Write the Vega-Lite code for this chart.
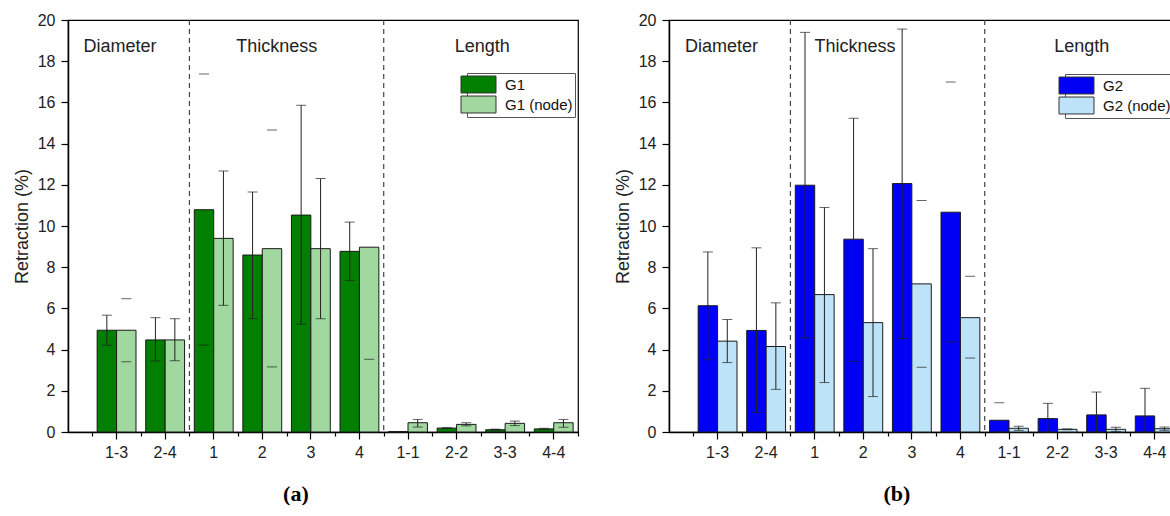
{
  "$schema": "https://vega.github.io/schema/vega-lite/v6.json",
  "background": "white",
  "padding": {"left": 12, "top": 11, "right": 0, "bottom": 0},
  "spacing": 33,
  "config": {
    "font": "Liberation Sans",
    "view": {"stroke": "#000", "strokeWidth": 1.2},
    "axis": {
      "labelFont": "Liberation Sans", "titleFont": "Liberation Sans",
      "labelColor": "#222", "titleColor": "#222",
      "domainColor": "#000", "tickColor": "#000", "grid": false,
      "titleFontWeight": "normal", "labelFontSize": 16, "titleFontSize": 18,
      "domainWidth": 1.5, "tickWidth": 1.2
    },
    "legend": {
      "orient": "none", "title": null,
      "symbolType": "M-2,-0.97L2,-0.97L2,0.97L-2,0.97Z",
      "symbolSize": 306, "symbolStrokeColor": "#333", "symbolStrokeWidth": 1,
      "symbolOpacity": 1, "labelFontSize": 15, "labelColor": "#111", "labelOffset": 17,
      "rowPadding": -4, "padding": 2, "strokeColor": "#555", "strokeWidth": 1
    }
  },
  "datasets": {
    "left": [
      {"cat": "1-3", "series": "G1", "value": 4.94, "low": 4.21, "high": 5.67},
      {"cat": "1-3", "series": "G1 (node)", "value": 4.94, "low": 3.41, "high": 6.47},
      {"cat": "2-4", "series": "G1", "value": 4.47, "low": 3.45, "high": 5.55},
      {"cat": "2-4", "series": "G1 (node)", "value": 4.47, "low": 3.46, "high": 5.5},
      {"cat": "1", "series": "G1", "value": 10.79, "low": 4.22, "high": 17.38},
      {"cat": "1", "series": "G1 (node)", "value": 9.4, "low": 6.15, "high": 12.67},
      {"cat": "2", "series": "G1", "value": 8.59, "low": 5.5, "high": 11.65},
      {"cat": "2", "series": "G1 (node)", "value": 8.9, "low": 3.16, "high": 14.66},
      {"cat": "3", "series": "G1", "value": 10.53, "low": 5.23, "high": 15.86},
      {"cat": "3", "series": "G1 (node)", "value": 8.9, "low": 5.5, "high": 12.3},
      {"cat": "4", "series": "G1", "value": 8.77, "low": 7.36, "high": 10.19},
      {"cat": "4", "series": "G1 (node)", "value": 8.97, "low": 3.53, "high": null},
      {"cat": "1-1", "series": "G1", "value": 0.02, "low": null, "high": null},
      {"cat": "1-1", "series": "G1 (node)", "value": 0.45, "low": 0.24, "high": 0.61},
      {"cat": "2-2", "series": "G1", "value": 0.19, "low": 0.17, "high": 0.21},
      {"cat": "2-2", "series": "G1 (node)", "value": 0.37, "low": 0.3, "high": 0.45},
      {"cat": "3-3", "series": "G1", "value": 0.11, "low": 0.08, "high": 0.14},
      {"cat": "3-3", "series": "G1 (node)", "value": 0.42, "low": 0.31, "high": 0.53},
      {"cat": "4-4", "series": "G1", "value": 0.15, "low": 0.12, "high": 0.18},
      {"cat": "4-4", "series": "G1 (node)", "value": 0.45, "low": 0.23, "high": 0.61}
    ],
    "right": [
      {"cat": "1-3", "series": "G2", "value": 6.13, "low": 3.51, "high": 8.74},
      {"cat": "1-3", "series": "G2 (node)", "value": 4.41, "low": 3.37, "high": 5.46},
      {"cat": "2-4", "series": "G2", "value": 4.93, "low": 0.95, "high": 8.94},
      {"cat": "2-4", "series": "G2 (node)", "value": 4.15, "low": 2.07, "high": 6.27},
      {"cat": "1", "series": "G2", "value": 11.98, "low": 4.57, "high": 19.4},
      {"cat": "1", "series": "G2 (node)", "value": 6.67, "low": 2.4, "high": 10.9},
      {"cat": "2", "series": "G2", "value": 9.36, "low": 3.43, "high": 15.23},
      {"cat": "2", "series": "G2 (node)", "value": 5.31, "low": 1.72, "high": 8.9},
      {"cat": "3", "series": "G2", "value": 12.06, "low": 4.53, "high": 19.56},
      {"cat": "3", "series": "G2 (node)", "value": 7.19, "low": 3.14, "high": 11.24},
      {"cat": "4", "series": "G2", "value": 10.67, "low": 4.38, "high": 16.99},
      {"cat": "4", "series": "G2 (node)", "value": 5.55, "low": 3.59, "high": 7.56},
      {"cat": "1-1", "series": "G2", "value": 0.57, "low": 0, "high": 1.42},
      {"cat": "1-1", "series": "G2 (node)", "value": 0.18, "low": 0.08, "high": 0.28},
      {"cat": "2-2", "series": "G2", "value": 0.65, "low": 0, "high": 1.39},
      {"cat": "2-2", "series": "G2 (node)", "value": 0.13, "low": 0.11, "high": 0.15},
      {"cat": "3-3", "series": "G2", "value": 0.83, "low": 0, "high": 1.94},
      {"cat": "3-3", "series": "G2 (node)", "value": 0.13, "low": 0.03, "high": 0.23},
      {"cat": "4-4", "series": "G2", "value": 0.78, "low": 0, "high": 2.12},
      {"cat": "4-4", "series": "G2 (node)", "value": 0.16, "low": 0.08, "high": 0.24}
    ],
    "sections": [
      {"section": "Diameter", "anchor": "1-3"},
      {"section": "Thickness", "anchor": "2"},
      {"section": "Length", "anchor": "3-3"}
    ],
    "seps": [{"sep": "1"}, {"sep": "1-1"}]
  },
  "resolve": {"scale": {"color": "independent", "x": "independent", "y": "independent", "xOffset": "independent"}},
  "hconcat": [
    {
      "width": 510, "height": 412,
      "title": {"text": "(a)", "orient": "bottom", "frame": "bounds", "offset": 24, "font": "Liberation Serif", "fontSize": 22, "fontWeight": "bold", "color": "#000"},
      "resolve": {"axis": {"x": "independent"}},
      "layer": [
        {
          "data": {"name": "left"},
          "mark": {"type": "bar", "stroke": "#1a1a1a", "strokeWidth": 1},
          "encoding": {
            "x": {"field": "cat", "type": "nominal",
              "scale": {"type": "band", "domain": ["1-3", "2-4", "1", "2", "3", "4", "1-1", "2-2", "3-3", "4-4"], "paddingInner": 0, "paddingOuter": 0.25, "align": 1},
              "axis": {"title": null, "labelAngle": 0, "tickSize": 7, "labelPadding": 5, "orient": "bottom"}},
            "xOffset": {"field": "series", "type": "nominal", "scale": {"type": "band", "domain": ["G1", "G1 (node)"], "paddingInner": 0, "paddingOuter": 0.25}},
            "y": {"field": "value", "type": "quantitative", "title": "Retraction (%)",
              "scale": {"domain": [0, 20], "nice": false},
              "axis": {"title": "Retraction (%)", "values": [0,1,2,3,4,5,6,7,8,9,10,11,12,13,14,15,16,17,18,19,20],
                "labelExpr": "datum.value % 2 == 1 ? '' : datum.label",
                "tickSize": {"condition": {"test": "datum.value % 2 == 1", "value": 4}, "value": 7},
                "labelPadding": 6, "titlePadding": 6}},
            "color": {"field": "series", "type": "nominal",
              "scale": {"domain": ["G1", "G1 (node)"], "range": ["#007f00", "#a0d8a0"]},
              "legend": {"legendX": 399, "legendY": 53}}
          }
        },
        {
          "data": {"name": "left"},
          "transform": [{"filter": "!((datum.cat == '1-3' && datum.series == 'G1 (node)') || (datum.cat == '1' && datum.series == 'G1') || (datum.cat == '2' && datum.series == 'G1 (node)') || (datum.cat == '4' && datum.series == 'G1 (node)'))"}],
          "mark": {"type": "rule", "color": "#222", "strokeWidth": 1},
          "encoding": {
            "x": {"field": "cat", "type": "nominal", "axis": null},
            "xOffset": {"field": "series", "type": "nominal"},
            "y": {"field": "low", "type": "quantitative", "title": "Retraction (%)"},
            "y2": {"field": "high"}
          }
        },
        {
          "data": {"name": "left"},
          "mark": {"type": "tick", "color": "#222", "size": 10, "thickness": 1},
          "encoding": {
            "x": {"field": "cat", "type": "nominal", "axis": null},
            "xOffset": {"field": "series", "type": "nominal"},
            "y": {"field": "low", "type": "quantitative", "title": "Retraction (%)"}
          }
        },
        {
          "data": {"name": "left"},
          "mark": {"type": "tick", "color": "#222", "size": 10, "thickness": 1},
          "encoding": {
            "x": {"field": "cat", "type": "nominal", "axis": null},
            "xOffset": {"field": "series", "type": "nominal"},
            "y": {"field": "high", "type": "quantitative", "title": "Retraction (%)"}
          }
        },
        {
          "data": {"name": "seps"},
          "mark": {"type": "rule", "strokeDash": [5, 4], "color": "#444", "strokeWidth": 1.2},
          "encoding": {
            "x": {"field": "sep", "type": "nominal", "bandPosition": 0,
              "axis": {"orient": "bottom", "tickBand": "extent", "labels": false, "domain": false, "tickSize": 4, "title": null}}
          }
        },
        {
          "data": {"name": "sections"},
          "transform": [{"filter": "datum.section == 'Diameter'"}],
          "mark": {"type": "text", "fontSize": 18, "color": "#222"},
          "encoding": {
            "x": {"field": "anchor", "type": "nominal", "bandPosition": 0.57, "axis": null},
            "y": {"datum": 18.7, "type": "quantitative"},
            "text": {"field": "section"}
          }
        },
        {
          "data": {"name": "sections"},
          "transform": [{"filter": "datum.section == 'Thickness'"}],
          "mark": {"type": "text", "fontSize": 18, "color": "#222"},
          "encoding": {
            "x": {"field": "anchor", "type": "nominal", "bandPosition": 0.8, "axis": null},
            "y": {"datum": 18.7, "type": "quantitative"},
            "text": {"field": "section"}
          }
        },
        {
          "data": {"name": "sections"},
          "transform": [{"filter": "datum.section == 'Length'"}],
          "mark": {"type": "text", "fontSize": 18, "color": "#222"},
          "encoding": {
            "x": {"field": "anchor", "type": "nominal", "bandPosition": 0.03, "axis": null},
            "y": {"datum": 18.7, "type": "quantitative"},
            "text": {"field": "section"}
          }
        }
      ]
    },
    {
      "width": 510, "height": 412,
      "title": {"text": "(b)", "orient": "bottom", "frame": "bounds", "offset": 24, "font": "Liberation Serif", "fontSize": 22, "fontWeight": "bold", "color": "#000"},
      "resolve": {"axis": {"x": "independent"}},
      "layer": [
        {
          "data": {"name": "right"},
          "mark": {"type": "bar", "stroke": "#1a1a1a", "strokeWidth": 1},
          "encoding": {
            "x": {"field": "cat", "type": "nominal",
              "scale": {"type": "band", "domain": ["1-3", "2-4", "1", "2", "3", "4", "1-1", "2-2", "3-3", "4-4"], "paddingInner": 0, "paddingOuter": 0.25, "align": 1},
              "axis": {"title": null, "labelAngle": 0, "tickSize": 7, "labelPadding": 5, "orient": "bottom"}},
            "xOffset": {"field": "series", "type": "nominal", "scale": {"type": "band", "domain": ["G2", "G2 (node)"], "paddingInner": 0, "paddingOuter": 0.25}},
            "y": {"field": "value", "type": "quantitative", "title": "Retraction (%)",
              "scale": {"domain": [0, 20], "nice": false},
              "axis": {"title": "Retraction (%)", "values": [0,1,2,3,4,5,6,7,8,9,10,11,12,13,14,15,16,17,18,19,20],
                "labelExpr": "datum.value % 2 == 1 ? '' : datum.label",
                "tickSize": {"condition": {"test": "datum.value % 2 == 1", "value": 4}, "value": 7},
                "labelPadding": 6, "titlePadding": 6}},
            "color": {"field": "series", "type": "nominal",
              "scale": {"domain": ["G2", "G2 (node)"], "range": ["#0000f5", "#bce3f8"]},
              "legend": {"legendX": 396, "legendY": 54}}
          }
        },
        {
          "data": {"name": "right"},
          "transform": [{"filter": "!((datum.cat == '3' && datum.series == 'G2 (node)') || (datum.cat == '4' && datum.series == 'G2') || (datum.cat == '4' && datum.series == 'G2 (node)') || (datum.cat == '1-1' && datum.series == 'G2'))"}],
          "mark": {"type": "rule", "color": "#222", "strokeWidth": 1},
          "encoding": {
            "x": {"field": "cat", "type": "nominal", "axis": null},
            "xOffset": {"field": "series", "type": "nominal"},
            "y": {"field": "low", "type": "quantitative", "title": "Retraction (%)"},
            "y2": {"field": "high"}
          }
        },
        {
          "data": {"name": "right"},
          "mark": {"type": "tick", "color": "#222", "size": 10, "thickness": 1},
          "encoding": {
            "x": {"field": "cat", "type": "nominal", "axis": null},
            "xOffset": {"field": "series", "type": "nominal"},
            "y": {"field": "low", "type": "quantitative", "title": "Retraction (%)"}
          }
        },
        {
          "data": {"name": "right"},
          "mark": {"type": "tick", "color": "#222", "size": 10, "thickness": 1},
          "encoding": {
            "x": {"field": "cat", "type": "nominal", "axis": null},
            "xOffset": {"field": "series", "type": "nominal"},
            "y": {"field": "high", "type": "quantitative", "title": "Retraction (%)"}
          }
        },
        {
          "data": {"name": "seps"},
          "mark": {"type": "rule", "strokeDash": [5, 4], "color": "#444", "strokeWidth": 1.2},
          "encoding": {
            "x": {"field": "sep", "type": "nominal", "bandPosition": 0,
              "axis": {"orient": "bottom", "tickBand": "extent", "labels": false, "domain": false, "tickSize": 4, "title": null}}
          }
        },
        {
          "data": {"name": "sections"},
          "transform": [{"filter": "datum.section == 'Diameter'"}],
          "mark": {"type": "text", "fontSize": 18, "color": "#222"},
          "encoding": {
            "x": {"field": "anchor", "type": "nominal", "bandPosition": 0.58, "axis": null},
            "y": {"datum": 18.7, "type": "quantitative"},
            "text": {"field": "section"}
          }
        },
        {
          "data": {"name": "sections"},
          "transform": [{"filter": "datum.section == 'Thickness'"}],
          "mark": {"type": "text", "fontSize": 18, "color": "#222"},
          "encoding": {
            "x": {"field": "anchor", "type": "nominal", "bandPosition": 0.33, "axis": null},
            "y": {"datum": 18.7, "type": "quantitative"},
            "text": {"field": "section"}
          }
        },
        {
          "data": {"name": "sections"},
          "transform": [{"filter": "datum.section == 'Length'"}],
          "mark": {"type": "text", "fontSize": 18, "color": "#222"},
          "encoding": {
            "x": {"field": "anchor", "type": "nominal", "bandPosition": 0.0, "axis": null},
            "y": {"datum": 18.7, "type": "quantitative"},
            "text": {"field": "section"}
          }
        }
      ]
    }
  ]
}
